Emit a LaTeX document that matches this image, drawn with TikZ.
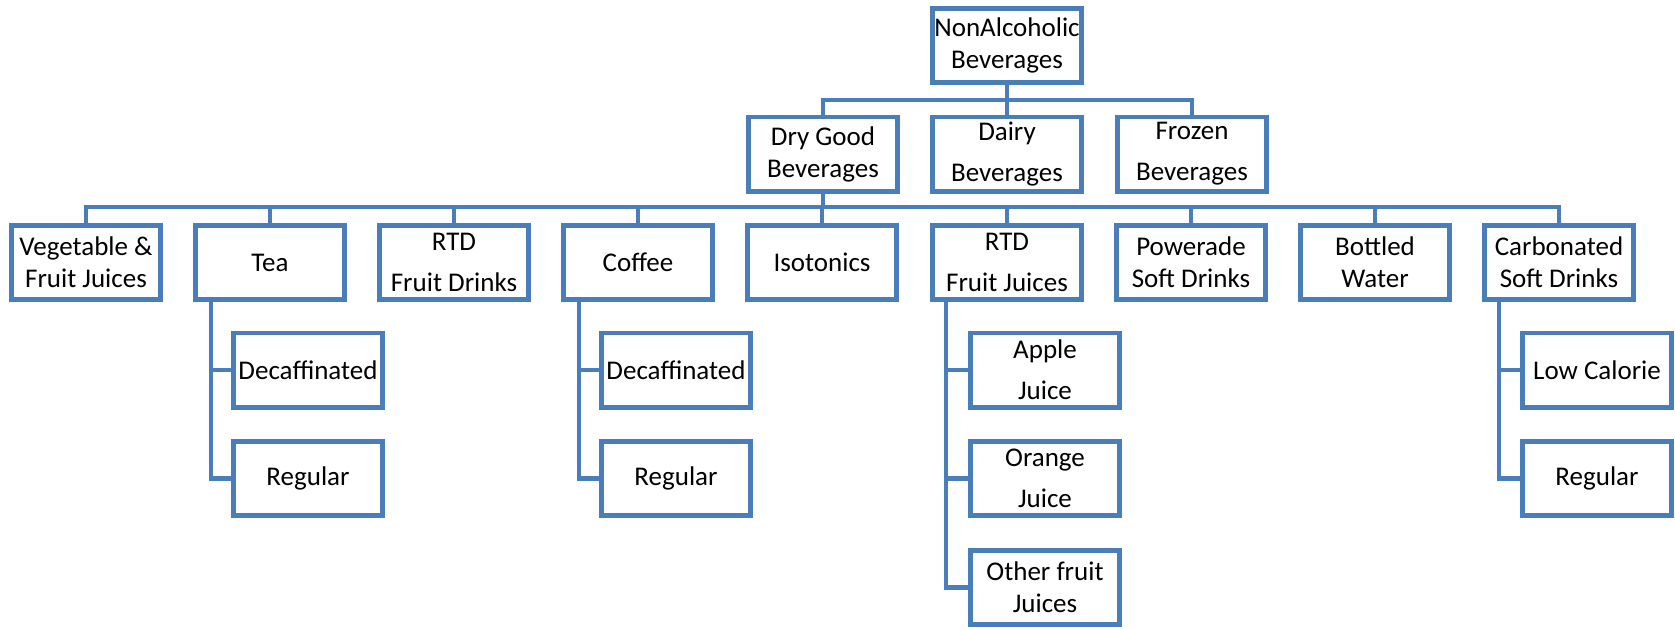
\documentclass[tikz,border=0pt]{standalone}
\usepackage{fontspec}
\setmainfont{Carlito}
\usetikzlibrary{calc}
\definecolor{orgblue}{RGB}{74,126,187}
\begin{document}
\begin{tikzpicture}[x=1pt,y=-1pt,
  box/.style={draw=orgblue, line width=4.6pt, fill=white, minimum width=149.4pt, minimum height=74.4pt, inner sep=0pt, align=center, font=\fontsize{27}{32}\selectfont, text=black},
  wide/.style={font=\fontsize{27}{41}\selectfont},
  conn/.style={draw=orgblue, line width=4.6pt}]
\useasboundingbox (0,0) rectangle (1675,629);
% level 1 and 2
\node[box] (top) at (1007,45.5) {NonAlcoholic\\Beverages};
\node[box] (dry) at (823,154) {Dry Good\\Beverages};
\node[box,wide] (dairy) at (1007,154) {Dairy\\Beverages};
\node[box,wide] (frozen) at (1192,154) {Frozen\\Beverages};
% level 3
\node[box] (veg) at (86,262.5) {Vegetable \&\\Fruit Juices};
\node[box] (tea) at (270,262.5) {Tea};
\node[box,wide] (rtdfd) at (454,262.5) {RTD\\Fruit Drinks};
\node[box] (coffee) at (638,262.5) {Coffee};
\node[box] (iso) at (822,262.5) {Isotonics};
\node[box,wide] (rtdfj) at (1007,262.5) {RTD\\Fruit Juices};
\node[box] (powerade) at (1191,262.5) {Powerade\\Soft Drinks};
\node[box] (bottled) at (1375,262.5) {Bottled\\Water};
\node[box] (carb) at (1559,262.5) {Carbonated\\Soft Drinks};
% level 4
\node[box] (teadec) at (308,370) {Decaffinated};
\node[box] (teareg) at (308,478.5) {Regular};
\node[box] (cofdec) at (676,370) {Decaffinated};
\node[box] (cofreg) at (676,478.5) {Regular};
\node[box,wide] (apple) at (1045,370) {Apple\\Juice};
\node[box,wide] (orange) at (1045,478.5) {Orange\\Juice};
\node[box] (other) at (1045,587.5) {Other fruit\\Juices};
\node[box] (lowcal) at (1597,370) {Low Calorie};
\node[box] (carbreg) at (1597,478.5) {Regular};
% connectors
\coordinate (bar1) at (0,100);
\coordinate (bar2) at (0,207);
\draw[conn] (top.south) -- (dairy.north);
\draw[conn] (dry.north) -- (dry.north|-bar1) -- (frozen.north|-bar1) -- (frozen.north);
\draw[conn] (dry.south) -- (dry.south|-bar2);
\draw[conn] (veg.north) -- (veg.north|-bar2) -- (carb.north|-bar2) -- (carb.north);
\foreach \n in {tea,rtdfd,coffee,iso,rtdfj,powerade,bottled}
  \draw[conn] (\n.north) -- (\n.north|-bar2);
\coordinate (teav) at ($(tea.south)+(-59,0)$);
\coordinate (cofv) at ($(coffee.south)+(-59,0)$);
\coordinate (rtdv) at ($(rtdfj.south)+(-61,0)$);
\coordinate (carbv) at ($(carb.south)+(-60,0)$);
\draw[conn] (teav) |- (teareg.west);
\draw[conn] (teav|-teadec.west) -- (teadec.west);
\draw[conn] (cofv) |- (cofreg.west);
\draw[conn] (cofv|-cofdec.west) -- (cofdec.west);
\draw[conn] (rtdv) |- (other.west);
\draw[conn] (rtdv|-apple.west) -- (apple.west);
\draw[conn] (rtdv|-orange.west) -- (orange.west);
\draw[conn] (carbv) |- (carbreg.west);
\draw[conn] (carbv|-lowcal.west) -- (lowcal.west);
\end{tikzpicture}
\end{document}
